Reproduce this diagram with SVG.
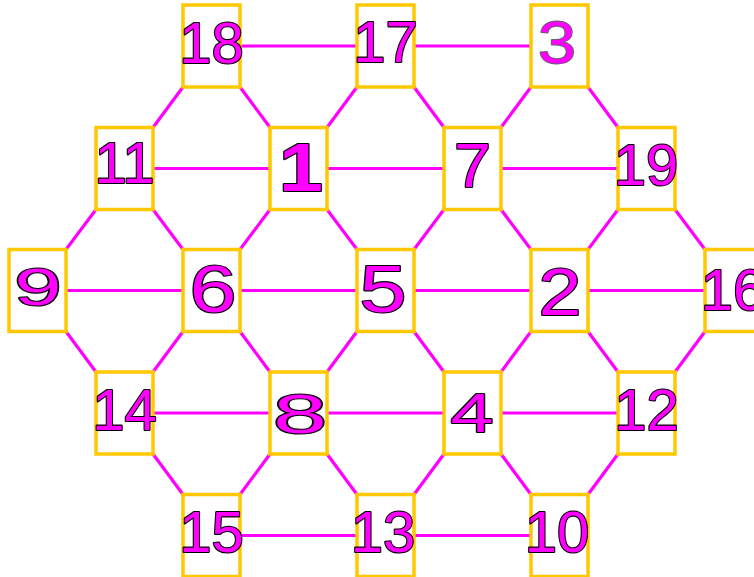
<svg xmlns="http://www.w3.org/2000/svg" width="754" height="577" viewBox="0 0 754 577">
<style>
.bg{fill:#ffffff}
.box{fill:#ffffff;stroke:#FFC800;stroke-width:3.5}
.c line{stroke:#FF00FF;stroke-width:3.2;stroke-linecap:butt}
.t{font-family:"Liberation Sans",Arial,sans-serif;font-size:58px;fill:#FF00FF;stroke:#000000;stroke-width:2.2;paint-order:stroke fill;stroke-linejoin:round;text-anchor:middle}
</style>
<rect class="bg" x="0" y="0" width="754" height="577"/>
<g id="connectors" class="c">
<line x1="240" y1="46" x2="357" y2="46"/>
<line x1="414" y1="46" x2="531" y2="46"/>
<line x1="153" y1="168.5" x2="270" y2="168.5"/>
<line x1="327" y1="168.5" x2="444" y2="168.5"/>
<line x1="501" y1="168.5" x2="618" y2="168.5"/>
<line x1="66" y1="290.5" x2="183" y2="290.5"/>
<line x1="240" y1="290.5" x2="357" y2="290.5"/>
<line x1="414" y1="290.5" x2="531" y2="290.5"/>
<line x1="588" y1="290.5" x2="705" y2="290.5"/>
<line x1="153" y1="413" x2="270" y2="413"/>
<line x1="327" y1="413" x2="444" y2="413"/>
<line x1="501" y1="413" x2="618" y2="413"/>
<line x1="240" y1="535.5" x2="357" y2="535.5"/>
<line x1="414" y1="535.5" x2="531" y2="535.5"/>
<line x1="183" y1="87" x2="153" y2="127.5"/>
<line x1="240" y1="87" x2="270" y2="127.5"/>
<line x1="357" y1="87" x2="327" y2="127.5"/>
<line x1="414" y1="87" x2="444" y2="127.5"/>
<line x1="531" y1="87" x2="501" y2="127.5"/>
<line x1="588" y1="87" x2="618" y2="127.5"/>
<line x1="96" y1="209.5" x2="66" y2="249.5"/>
<line x1="153" y1="209.5" x2="183" y2="249.5"/>
<line x1="270" y1="209.5" x2="240" y2="249.5"/>
<line x1="327" y1="209.5" x2="357" y2="249.5"/>
<line x1="444" y1="209.5" x2="414" y2="249.5"/>
<line x1="501" y1="209.5" x2="531" y2="249.5"/>
<line x1="618" y1="209.5" x2="588" y2="249.5"/>
<line x1="675" y1="209.5" x2="705" y2="249.5"/>
<line x1="66" y1="331.5" x2="96" y2="372"/>
<line x1="183" y1="331.5" x2="153" y2="372"/>
<line x1="240" y1="331.5" x2="270" y2="372"/>
<line x1="357" y1="331.5" x2="327" y2="372"/>
<line x1="414" y1="331.5" x2="444" y2="372"/>
<line x1="531" y1="331.5" x2="501" y2="372"/>
<line x1="588" y1="331.5" x2="618" y2="372"/>
<line x1="705" y1="331.5" x2="675" y2="372"/>
<line x1="153" y1="454" x2="183" y2="494.5"/>
<line x1="270" y1="454" x2="240" y2="494.5"/>
<line x1="327" y1="454" x2="357" y2="494.5"/>
<line x1="444" y1="454" x2="414" y2="494.5"/>
<line x1="501" y1="454" x2="531" y2="494.5"/>
<line x1="618" y1="454" x2="588" y2="494.5"/>
</g>
<g id="n18"><rect class="box" x="183" y="5" width="57" height="82"/><text class="t" x="211.5" y="63">18</text></g>
<g id="n17"><rect class="box" x="357" y="5" width="57" height="82"/><text class="t" x="385.5" y="62">17</text></g>
<g id="n3"><rect class="box" x="531" y="5" width="57" height="82"/><text class="t" x="557" y="63" style="font-size:60px;stroke:#666;stroke-width:1.8" textLength="38" lengthAdjust="spacingAndGlyphs">3</text></g>
<g id="n11"><rect class="box" x="96" y="127.5" width="57" height="82"/><text class="t" x="124.5" y="183">11</text></g>
<g id="n1"><rect class="box" x="270" y="127.5" width="57" height="82"/><text class="t" x="301" y="191" style="font-size:68px;font-weight:bold" textLength="44" lengthAdjust="spacingAndGlyphs">1</text></g>
<g id="n7"><rect class="box" x="444" y="127.5" width="57" height="82"/><text class="t" x="472.5" y="187" style="font-size:63px" textLength="37" lengthAdjust="spacingAndGlyphs">7</text></g>
<g id="n19"><rect class="box" x="618" y="127.5" width="57" height="82"/><text class="t" x="646" y="185">19</text></g>
<g id="n9"><rect class="box" x="9" y="249.5" width="57" height="82"/><text class="t" x="38" y="305" style="font-size:52px" textLength="47" lengthAdjust="spacingAndGlyphs">9</text></g>
<g id="n6"><rect class="box" x="183" y="249.5" width="57" height="82"/><text class="t" x="213" y="312" style="font-size:66px" textLength="47" lengthAdjust="spacingAndGlyphs">6</text></g>
<g id="n5"><rect class="box" x="357" y="249.5" width="57" height="82"/><text class="t" x="383" y="312" style="font-size:66px" textLength="47" lengthAdjust="spacingAndGlyphs">5</text></g>
<g id="n2"><rect class="box" x="531" y="249.5" width="57" height="82"/><text class="t" x="560" y="315" style="font-size:66px" textLength="43" lengthAdjust="spacingAndGlyphs">2</text></g>
<g id="n16"><rect class="box" x="705" y="249.5" width="57" height="82"/><text class="t" x="733" y="310">16</text></g>
<g id="n14"><rect class="box" x="96" y="372" width="57" height="82"/><text class="t" x="124.5" y="430">14</text></g>
<g id="n8"><rect class="box" x="270" y="372" width="57" height="82"/><text class="t" x="300" y="433" style="font-size:56px" textLength="54" lengthAdjust="spacingAndGlyphs">8</text></g>
<g id="n4"><rect class="box" x="444" y="372" width="57" height="82"/><text class="t" x="472" y="432" style="font-size:56px" textLength="43" lengthAdjust="spacingAndGlyphs">4</text></g>
<g id="n12"><rect class="box" x="618" y="372" width="57" height="82"/><text class="t" x="646.5" y="430">12</text></g>
<g id="n15"><rect class="box" x="183" y="494.5" width="57" height="82"/><text class="t" x="211.5" y="552">15</text></g>
<g id="n13"><rect class="box" x="357" y="494.5" width="57" height="82"/><text class="t" x="383" y="552">13</text></g>
<g id="n10"><rect class="box" x="531" y="494.5" width="57" height="82"/><text class="t" x="557" y="552">10</text></g>
</svg>
